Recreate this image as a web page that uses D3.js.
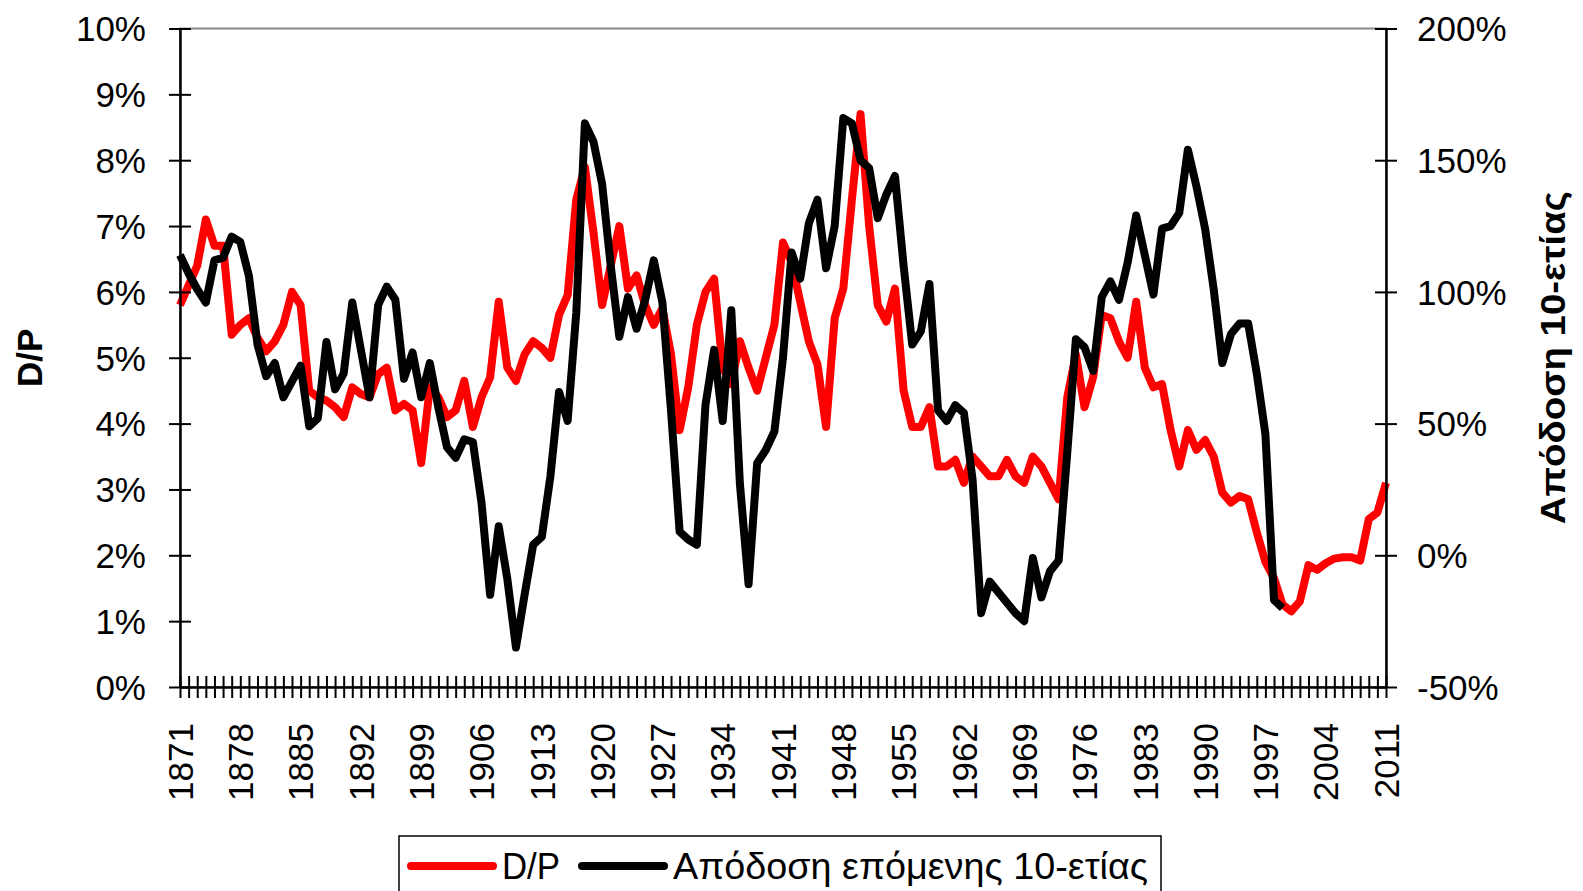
<!DOCTYPE html>
<html>
<head>
<meta charset="utf-8">
<script src="https://cdnjs.cloudflare.com/ajax/libs/d3/7.8.5/d3.min.js"></script>
<style>
  body { margin: 0; background: #fff; }
  text { font-family: "Liberation Sans", Arial, sans-serif; fill: #000; }
</style>
</head>
<body>
<div id="chart"></div>
<script>
// categories: one per year
const firstYear = 1871, lastYear = 2011;
const years = d3.range(firstYear, lastYear + 1);
const labelYears = [1871, 1878, 1885, 1892, 1899, 1906, 1913, 1920, 1927, 1934,
                    1941, 1948, 1955, 1962, 1969, 1976, 1983, 1990, 1997, 2004, 2011];

// D/P (%), 1871..2011
const dpValues = [
  5.8, 6.1, 6.4, 7.1, 6.7, 6.7, 5.35, 5.5, 5.6, 5.3,
  5.1, 5.25, 5.5, 6.0, 5.8, 4.5, 4.4, 4.35, 4.25, 4.1,
  4.55, 4.45, 4.4, 4.75, 4.85, 4.2, 4.3, 4.2, 3.4, 4.55,
  4.4, 4.1, 4.2, 4.65, 3.95, 4.4, 4.7, 5.85, 4.85, 4.65,
  5.05, 5.25, 5.15, 5.0, 5.65, 5.95, 7.4, 7.9, 6.9, 5.8,
  6.4, 7.0, 6.05, 6.25, 5.8, 5.5, 5.75, 5.05, 3.9, 4.55,
  5.5, 6.0, 6.2, 4.85, 4.6, 5.25, 4.85, 4.5, 5.0, 5.5,
  6.75, 6.45, 5.85, 5.25, 4.9, 3.95, 5.6, 6.05, 7.4, 8.7,
  7.0, 5.8, 5.55, 6.05, 4.5, 3.95, 3.95, 4.25, 3.35, 3.35,
  3.45, 3.1, 3.5, 3.35, 3.2, 3.2, 3.45, 3.2, 3.1, 3.5,
  3.35, 3.1, 2.85, 4.4, 5.05, 4.25, 4.7, 5.65, 5.6, 5.25,
  5.0, 5.85, 4.85, 4.55, 4.6, 3.9, 3.35, 3.9, 3.6, 3.75,
  3.5, 2.95, 2.8, 2.9, 2.85, 2.35, 1.9, 1.65, 1.25, 1.15,
  1.3, 1.85, 1.78, 1.88, 1.95, 1.97, 1.97, 1.92, 2.55, 2.65,
  3.1
];

// next-decade return (%), 1871..1999
const retValues = [
  114, 107, 101, 96, 112, 113, 121, 119, 106, 80,
  68, 73, 60, 66, 72, 49, 52, 81, 63, 69,
  96, 78, 60, 95, 102, 97, 67, 77, 60, 73,
  56, 41, 37, 44, 43, 20, -15, 11, -9, -35,
  -15, 4, 7, 30, 62, 51, 92, 164, 157, 141,
  110, 83, 98, 86, 97, 112, 96, 55, 9, 6,
  4, 57, 78, 51, 93, 27, -11, 35, 40, 47,
  75, 115, 105, 126, 135, 109, 125, 166, 164, 150,
  147, 128, 137, 144, 110, 80, 85, 103, 55, 51,
  57, 54, 29, -22, -10, -14, -18, -22, -25, -1,
  -16, -6, -2, 39, 82, 79, 70, 98, 104, 97,
  111, 129, 114, 99, 124, 125, 130, 154, 140, 124,
  101, 73, 84, 88, 88, 69, 46, -17, -20
];

const leftTicks = [0, 1, 2, 3, 4, 5, 6, 7, 8, 9, 10];
const rightTicks = [-50, 0, 50, 100, 150, 200];

const W = 1583, H = 891;
const plotLeft = 180, plotRight = 1386, plotTop = 28.5, plotBottom = 687;

let svg = d3.select("#chart").append("svg")
    .attr("width", W)
    .attr("height", H)
    .style("display", "block");

let x = d3.scaleLinear().domain([firstYear, lastYear]).range([plotLeft, plotRight]);
let yL = d3.scaleLinear().domain([0, 10]).range([plotBottom, plotTop]);
let yR = d3.scaleLinear().domain([-50, 200]).range([plotBottom, plotTop]);

// plot area border
svg.append("rect")
    .attr("x", plotLeft).attr("y", plotTop)
    .attr("width", plotRight - plotLeft).attr("height", plotBottom - plotTop)
    .attr("fill", "none").attr("stroke", "#888").attr("stroke-width", 2);

// lines
let lineDP = d3.line()
    .x((d, i) => x(years[i]))
    .y(d => yL(d));
let lineRet = d3.line()
    .x((d, i) => x(years[i]))
    .y(d => yR(d));

svg.append("path")
    .attr("d", lineDP(dpValues))
    .attr("fill", "none").attr("stroke", "#ff0000")
    .attr("stroke-width", 8).attr("stroke-linejoin", "round");

svg.append("path")
    .attr("d", lineRet(retValues))
    .attr("fill", "none").attr("stroke", "#000")
    .attr("stroke-width", 8).attr("stroke-linejoin", "round");

function styleAxis(g) {
  g.attr("font-family", null).attr("font-size", null);
  g.select(".domain").attr("stroke", "#000").attr("stroke-width", 2.5);
  g.selectAll(".tick line").attr("stroke", "#000").attr("stroke-width", 2);
  g.selectAll(".tick text").attr("font-size", 35);
}

// left axis
let gL = svg.append("g")
    .attr("transform", "translate(" + plotLeft + ",0)")
    .call(d3.axisLeft(yL).tickValues(leftTicks).tickFormat(d => d + "%").tickSizeOuter(0));
styleAxis(gL);
gL.selectAll(".tick line").attr("x1", -11).attr("x2", 11);
gL.selectAll(".tick text").attr("x", -34).attr("dy", "0.35em");

// right axis
let gR = svg.append("g")
    .attr("transform", "translate(" + plotRight + ",0)")
    .call(d3.axisRight(yR).tickValues(rightTicks).tickFormat(d => d + "%").tickSizeOuter(0));
styleAxis(gR);
gR.selectAll(".tick line").attr("x1", -11).attr("x2", 11);
gR.selectAll(".tick text").attr("x", 31).attr("dy", "0.35em");

// bottom axis
let gX = svg.append("g")
    .attr("transform", "translate(0," + plotBottom + ")")
    .call(d3.axisBottom(x).tickValues(years)
        .tickFormat(d => labelYears.includes(d) ? d : "")
        .tickSizeOuter(0));
styleAxis(gX);
gX.selectAll(".tick line").attr("y1", -11).attr("y2", 11);
gX.selectAll(".tick text")
    .attr("transform", "rotate(-90)")
    .attr("x", -36).attr("y", 0).attr("dy", "0.35em")
    .attr("text-anchor", "end");

// axis titles
svg.append("text")
    .attr("transform", "translate(30," + (plotTop + plotBottom) / 2 + ") rotate(-90)")
    .attr("text-anchor", "middle").attr("dy", "0.35em")
    .attr("font-size", 35).attr("font-weight", "bold")
    .text("D/P");

svg.append("text")
    .attr("transform", "translate(1553," + (plotTop + plotBottom) / 2 + ") rotate(-90)")
    .attr("text-anchor", "middle").attr("dy", "0.35em")
    .attr("font-size", 35).attr("font-weight", "bold")
    .attr("textLength", 333).attr("lengthAdjust", "spacingAndGlyphs")
    .text("Απόδοση 10-ετίας");

// legend
let legend = svg.append("g");
legend.append("rect")
    .attr("x", 399).attr("y", 836)
    .attr("width", 762).attr("height", 80)
    .attr("fill", "#fff").attr("stroke", "#000").attr("stroke-width", 1.5);

let legendItems = [
  {label: "D/P", color: "#ff0000", x: 411, w: 58},
  {label: "Απόδοση επόμενης 10-ετίας", color: "#000", x: 582, w: 475}
];
legendItems.forEach(function (d) {
  legend.append("line")
      .attr("x1", d.x).attr("x2", d.x + 82)
      .attr("y1", 866).attr("y2", 866)
      .attr("stroke", d.color).attr("stroke-width", 8)
      .attr("stroke-linecap", "round");
  legend.append("text")
      .attr("x", d.x + 91).attr("y", 866).attr("dy", "0.35em")
      .attr("font-size", 36)
      .attr("textLength", d.w).attr("lengthAdjust", "spacingAndGlyphs")
      .text(d.label);
});
</script>
</body>
</html>
